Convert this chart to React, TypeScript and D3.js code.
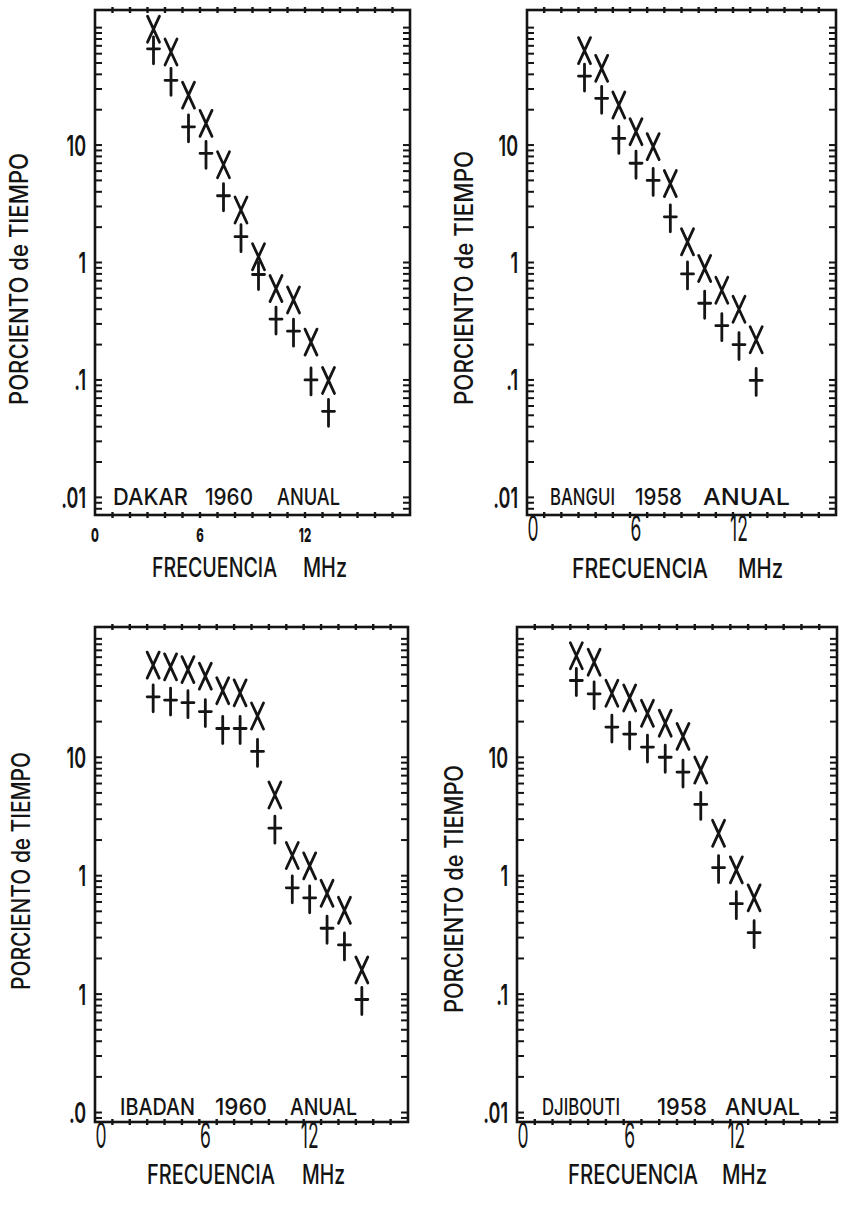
import React, { useLayoutEffect, useRef, useState } from "react";
import * as d3 from "d3";

// frequencies (MHz) of the plotted columns
const FREQ_DAKAR = [3, 4, 5, 6, 7, 8, 9, 10, 11, 12, 13];
const FREQ_BANGUI = [3, 4, 5, 6, 7, 8, 9, 10, 11, 12, 13];
const FREQ_IBADAN = [3, 4, 5, 6, 7, 8, 9, 10, 11, 12, 13, 14, 15];
const FREQ_DJIBOUTI = [3, 4, 5, 6, 7, 8, 9, 10, 11, 12, 13];

// percent of time, "X" series (upper) and "+" series (lower)
const DAKAR_X = [97, 62, 26.6, 15.3, 6.8, 2.8, 1.12, 0.6, 0.48, 0.21, 0.099];
const DAKAR_PLUS = [66, 35.6, 14.3, 8.5, 3.7, 1.66, 0.79, 0.33, 0.26, 0.1, 0.054];

const BANGUI_X = [63.7, 45, 21.9, 13, 9.7, 4.7, 1.5, 0.89, 0.58, 0.4, 0.22];
const BANGUI_PLUS = [38.7, 25, 11.4, 7, 5, 2.45, 0.8, 0.45, 0.29, 0.2, 0.099];

const IBADAN_X = [60, 58, 55, 48.4, 36.5, 35, 22.3, 4.8, 1.48, 1.21, 0.71, 0.51, 0.16];
const IBADAN_PLUS = [32.4, 30.4, 28.9, 24.3, 17.5, 17.5, 11.2, 2.52, 0.79, 0.65, 0.36, 0.26, 0.09];

const DJIBOUTI_X = [72, 63.5, 34.7, 31.7, 23.5, 19.4, 15, 7.8, 2.28, 1.12, 0.65];
const DJIBOUTI_PLUS = [44.5, 34.3, 18, 15.7, 12.2, 10, 7.5, 4, 1.17, 0.58, 0.33];

const X_TICK_VALUES = [0, 6, 12];
const X_TICK_LABELS = ["0", "6", "12"];
const Y_DECADES = [10, 1, 0.1, 0.01];
const Y_LABELS = ["10", "1", ".1", ".01"];
const Y_LABELS_IBADAN = ["10", "1", "1", ".0"];

const STATIONS = ["DAKAR", "BANGUI", "IBADAN", "DJIBOUTI"];
const YEARS = ["1960", "1958", "1960", "1958"];
const PERIOD = "ANUAL";
const X_TITLE = ["FRECUENCIA", "MHz"];
const Y_TITLE = "PORCIENTO de TIEMPO";

const W = 843;
const H = 1205;
const INK = "#141414";
const FONT = "Inter, 'DejaVu Sans', sans-serif";

// layout of the four scanned panels
const PANELS = [
  {
    freq: FREQ_DAKAR, xs: DAKAR_X, plus: DAKAR_PLUS, yLabels: Y_LABELS, boldX: true,
    frame: { x0: 95, x1: 410, y0: 10, y1: 515 }, exp: [-2.15, 2.15],
    words: [[113, 188], [205, 253], [277, 340]], wordBase: 505,
    title: [[152, 277], [303, 347]], titleBase: 577,
    yTitle: { x: 28, top: 153, bottom: 405 }
  },
  {
    freq: FREQ_BANGUI, xs: BANGUI_X, plus: BANGUI_PLUS, yLabels: Y_LABELS, boldX: false,
    frame: { x0: 527, x1: 836, y0: 10, y1: 515 }, exp: [-2.15, 2.15],
    words: [[550, 615], [635, 682], [703, 790]], wordBase: 505,
    title: [[572, 708], [738, 783]], titleBase: 578,
    yTitle: { x: 473, top: 151, bottom: 405 }
  },
  {
    freq: FREQ_IBADAN, xs: IBADAN_X, plus: IBADAN_PLUS, yLabels: Y_LABELS_IBADAN, boldX: false,
    frame: { x0: 95, x1: 408, y0: 627, y1: 1122 }, exp: [-2.08, 2.1],
    words: [[120, 195], [215, 267], [290, 357]], wordBase: 1115,
    title: [[147, 275], [302, 345]], titleBase: 1184,
    yTitle: { x: 30, top: 752, bottom: 990 }
  },
  {
    freq: FREQ_DJIBOUTI, xs: DJIBOUTI_X, plus: DJIBOUTI_PLUS, yLabels: Y_LABELS, boldX: false,
    frame: { x0: 517, x1: 837, y0: 627, y1: 1122 }, exp: [-2.08, 2.1],
    words: [[542, 620], [657, 707], [725, 800]], wordBase: 1115,
    title: [[568, 698], [722, 767]], titleBase: 1184,
    yTitle: { x: 463, top: 765, bottom: 1013 }
  }
];

const GLYPH_DX = 6; // plotter characters sit slightly right of the grid point

// text squeezed horizontally (by transform) to a given width, like the narrow plotter lettering
function FitText({ x, y, width, rotate = 0, anchor = "start", size, weight = 500, children }) {
  const ref = useRef(null);
  const [sx, setSx] = useState(0.7);
  useLayoutEffect(() => {
    if (!ref.current) return;
    const n = ref.current.getComputedTextLength();
    if (n > 0) setSx(width / n);
  }, [width, children]);
  return (
    <text
      ref={ref}
      transform={`translate(${x},${y}) rotate(${rotate}) scale(${sx},1)`}
      textAnchor={anchor}
      fontSize={size}
      fontWeight={weight}
      fontFamily={FONT}
      fill={INK}
    >
      {children}
    </text>
  );
}

function Panel({ p, i }) {
  const { x0, x1, y0, y1 } = p.frame;
  const x = d3.scaleLinear().domain([0, 18]).range([x0, x1]);
  const y = d3.scaleLog().domain([10 ** p.exp[0], 10 ** p.exp[1]]).range([y1, y0]);

  const xTicks = x.ticks(18).filter((t) => t > 0 && t < 18);
  const yTicks = y.ticks().filter((t) => y(t) > y0 + 2 && y(t) < y1 - 2);

  const wordsText = [STATIONS[i], YEARS[i], PERIOD];

  return (
    <g>
      {/* frame */}
      <rect x={x0} y={y0} width={x1 - x0} height={y1 - y0} fill="none" stroke={INK} strokeWidth={2.6} />

      {/* MHz ticks top / bottom */}
      {xTicks.map((t) => (
        <g key={"xt" + t} stroke={INK} strokeWidth={2.4}>
          <line x1={x(t)} x2={x(t)} y1={y0 - 3} y2={y0 + 3} />
          <line x1={x(t)} x2={x(t)} y1={y1 - 3} y2={y1 + 3} />
        </g>
      ))}

      {/* log ticks left / right */}
      {yTicks.map((t, k) => (
        <g key={"yt" + k} stroke={INK} strokeWidth={2}>
          <line x1={x0} x2={x0 + 7} y1={y(t)} y2={y(t)} />
          <line x1={x1 - 7} x2={x1} y1={y(t)} y2={y(t)} />
        </g>
      ))}

      {/* y tick labels */}
      {Y_DECADES.map((d, k) => (
        <text
          key={"yl" + k}
          transform={`translate(${x0 - 9},${y(d)}) scale(0.62,1)`}
          textAnchor="end"
          dy="0.36em"
          fontSize={29}
          fontWeight={600}
          fontFamily={FONT}
          fill={INK}
        >
          {p.yLabels[k]}
        </text>
      ))}

      {/* x tick labels */}
      {X_TICK_VALUES.map((v, k) => (
        <text
          key={"xl" + k}
          transform={
            p.boldX
              ? `translate(${x(v)},${y1 + 27}) scale(0.6,1)`
              : `translate(${x(v) + GLYPH_DX},${y1 + 26}) scale(0.5,1)`
          }
          textAnchor="middle"
          fontSize={p.boldX ? 19 : 35}
          fontWeight={p.boldX ? 800 : 400}
          fontFamily={FONT}
          fill={INK}
        >
          {X_TICK_LABELS[k]}
        </text>
      ))}

      {/* station / year / period */}
      {wordsText.map((w, k) => (
        <FitText key={"w" + k} x={p.words[k][0]} y={p.wordBase} width={p.words[k][1] - p.words[k][0]} size={23}>
          {w}
        </FitText>
      ))}

      {/* x title */}
      {X_TITLE.map((w, k) => (
        <FitText key={"t" + k} x={p.title[k][0]} y={p.titleBase} width={p.title[k][1] - p.title[k][0]} size={27}>
          {w}
        </FitText>
      ))}

      {/* y title */}
      <FitText
        x={p.yTitle.x}
        y={(p.yTitle.top + p.yTitle.bottom) / 2}
        width={p.yTitle.bottom - p.yTitle.top}
        rotate={-90}
        anchor="middle"
        size={25}
      >
        {Y_TITLE}
      </FitText>

      {/* X marks */}
      {p.freq.map((f, k) => (
        <path
          key={"x" + k}
          transform={`translate(${x(f) + GLYPH_DX},${y(p.xs[k])})`}
          d="M-6,-13 L6,13 M6,-13 L-6,13"
          fill="none"
          stroke={INK}
          strokeWidth={2.8}
          strokeLinecap="round"
        />
      ))}

      {/* + marks */}
      {p.freq.map((f, k) => (
        <path
          key={"p" + k}
          transform={`translate(${x(f) + GLYPH_DX},${y(p.plus[k])})`}
          d="M-6,0 H6 M0,-12 V15"
          fill="none"
          stroke={INK}
          strokeWidth={2.8}
          strokeLinecap="round"
        />
      ))}
    </g>
  );
}

export default function App() {
  return (
    <svg
      width={W}
      height={H}
      viewBox={`0 0 ${W} ${H}`}
      style={{ position: "absolute", left: 0, top: 0, background: "#fff" }}
    >
      <rect width={W} height={H} fill="#fff" />
      {PANELS.map((p, i) => (
        <Panel key={i} p={p} i={i} />
      ))}
    </svg>
  );
}
